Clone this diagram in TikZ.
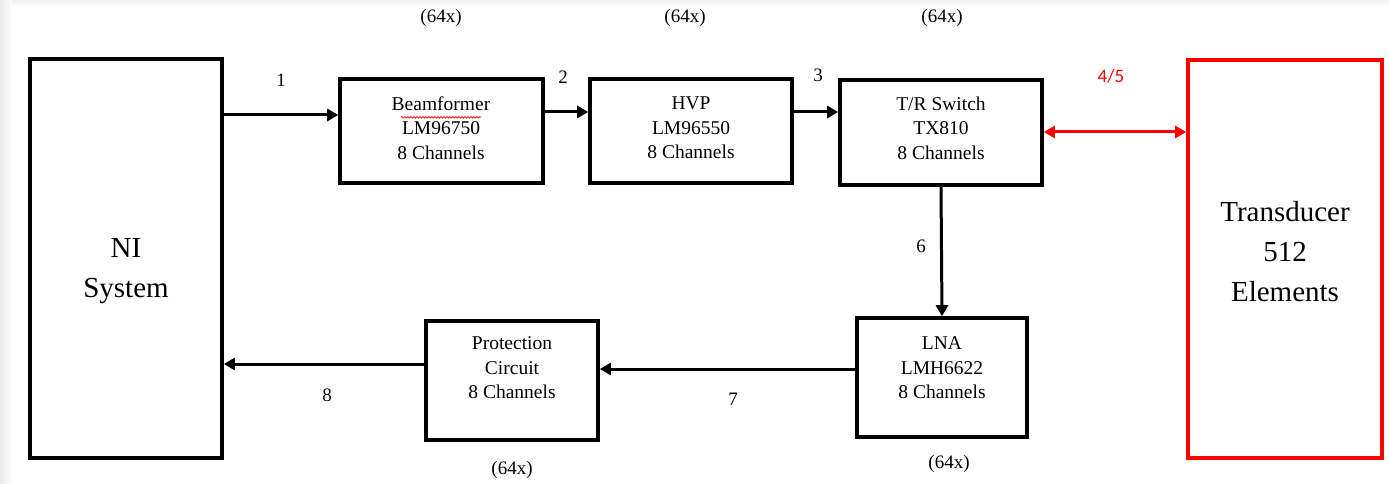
\documentclass[tikz,border=0pt]{standalone}
\usepackage{fontspec}
\setmainfont{Liberation Serif}
\newfontfamily\labsans{Carlito}
\usetikzlibrary{arrows.meta,calc,decorations.pathmorphing}
\begin{document}
\begin{tikzpicture}[x=1pt,y=-1pt,
  box/.style={draw=black, line width=3.6pt, fill=white, inner sep=0pt},
  redbox/.style={draw=red, line width=3.6pt, fill=white, inner sep=0pt},
  txt/.style={align=center, inner sep=0pt, font=\fontsize{19.5}{24.5}\selectfont},
  bigtxt/.style={align=center, inner sep=0pt, font=\fontsize{29}{40}\selectfont},
  num/.style={inner sep=0pt, font=\fontsize{19}{20}\selectfont},
  arr/.style={line width=3pt, -{Triangle[length=11pt,width=12pt]}},
  redarr/.style={draw=red, line width=3pt, {Triangle[length=11pt,width=12pt]}-{Triangle[length=11pt,width=12pt]}}
]
\useasboundingbox (0,0) rectangle (1389,484);
\fill[white] (0,0) rectangle (1389,484);
\shade[left color=gray!18, right color=white] (0,0) rectangle (12,484);
\shade[top color=gray!12, bottom color=white] (12,0) rectangle (1389,6);

% boxes
\node[box, minimum width=192pt, minimum height=399pt] (ni) at (126,258.5) {};
\node[bigtxt] (nit) at (126,271) {NI\\System};

\node[box, minimum width=203pt, minimum height=104pt] (beam) at (441.5,131) {};
\node[txt] (beamt) at (441,128) {Beamformer\\LM96750\\8 Channels};

\node[box, minimum width=202pt, minimum height=104pt] (hvp) at (691,131) {};
\node[txt] (hvpt) at (691,128) {HVP\\LM96550\\8 Channels};

\node[box, minimum width=202pt, minimum height=105pt] (tr) at (941,132.5) {};
\node[txt] (trt) at (941,128) {T/R Switch\\TX810\\8 Channels};

\node[redbox, minimum width=194pt, minimum height=398pt] (trans) at (1285,259) {};
\node[bigtxt] (transt) at (1285,252) {Transducer\\512\\Elements};

\node[box, minimum width=170pt, minimum height=119pt] (lna) at (942,377.5) {};
\node[txt] (lnat) at (942,368) {LNA\\LMH6622\\8 Channels};

\node[box, minimum width=172pt, minimum height=119pt] (prot) at (512,380.5) {};
\node[txt] (prott) at (512,368) {Protection\\Circuit\\8 Channels};

% spell-check underline under Beamformer
\draw[red, line width=0.7pt, decorate, decoration={snake, amplitude=0.8pt, segment length=3pt}]
  ($(beamt.north)+(-40,21)$) -- ($(beamt.north)+(40,21)$);

% connectors
\draw[arr] (ni.east |- 0,115) -- (beam.west |- 0,115);
\draw[arr] (beam.east |- 0,112) -- (hvp.west |- 0,112);
\draw[arr] (hvp.east |- 0,112) -- (tr.west |- 0,112);
\draw[redarr] (tr.east |- 0,132) -- (trans.west |- 0,132);
\draw[arr] (tr.south) -- (lna.north);
\draw[arr] (lna.west |- 0,369) -- (prot.east |- 0,369);
\draw[arr] (prot.west |- 0,364) -- (ni.east |- 0,364);

% labels
\node[num] (l1) at (281,80) {1};
\node[num] (l2) at (563,77) {2};
\node[num] (l3) at (818,75) {3};
\node[inner sep=0pt, text=red, font=\labsans\fontsize{19}{20}\selectfont] (l45) at (1111,76) {4/5};
\node[num] (l6) at (921,246) {6};
\node[num] (l7) at (733,399) {7};
\node[num] (l8) at (327,395) {8};

\node[num] (m1) at (441,18) {(64x)};
\node[num] (m2) at (685,18) {(64x)};
\node[num] (m3) at (942,18) {(64x)};
\node[num] (m4) at (512,470) {(64x)};
\node[num] (m5) at (949,464) {(64x)};
\end{tikzpicture}
\end{document}
